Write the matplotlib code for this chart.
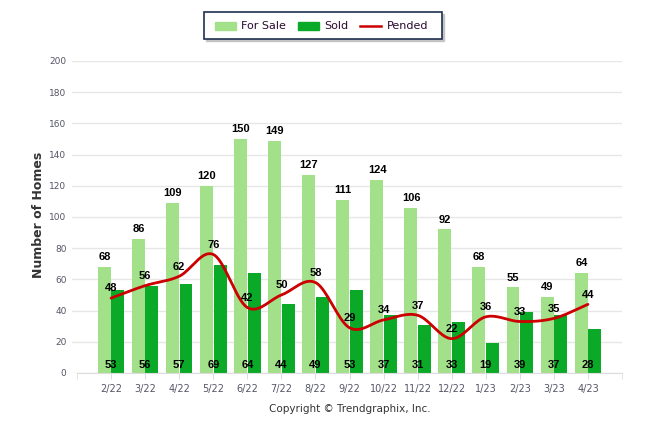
import matplotlib
matplotlib.use('Agg')

import numpy as np
import matplotlib.pyplot as plt
from matplotlib.patches import Rectangle

months = ['2/22', '3/22', '4/22', '5/22', '6/22', '7/22', '8/22', '9/22',
          '10/22', '11/22', '12/22', '1/23', '2/23', '3/23', '4/23']
for_sale = [68, 86, 109, 120, 150, 149, 127, 111, 124, 106, 92, 68, 55, 49, 64]
sold = [53, 56, 57, 69, 64, 44, 49, 53, 37, 31, 33, 19, 39, 37, 28]
pended = [48, 56, 62, 76, 42, 50, 58, 29, 34, 37, 22, 36, 33, 35, 44]

c_sale = '#a2e08a'
c_sold = '#0aa928'
c_pend = '#cc0000'

plt.rcParams['font.family'] = ['DejaVu Sans']

fig = plt.figure(figsize=(6.46, 4.34), dpi=100)
ax = fig.add_axes([72 / 646, 1 - 373 / 434, 550 / 646, 312 / 434])

x = np.arange(len(months))
w = 0.38
ax.bar(x - w / 2 - 0.01, for_sale, w, color=c_sale, zorder=2)
ax.bar(x + w / 2 + 0.01, sold, w, color=c_sold, zorder=2)

# smooth line through the pended points (catmull-rom)
px = x.astype(float)
py = np.array(pended, dtype=float)
ex = np.concatenate([[2 * px[0] - px[1]], px, [2 * px[-1] - px[-2]]])
ey = np.concatenate([[2 * py[0] - py[1]], py, [2 * py[-1] - py[-2]]])
sx, sy = [], []
t = np.linspace(0, 1, 20)
for i in range(1, len(ex) - 2):
    for arr, out in ((ex, sx), (ey, sy)):
        p0, p1, p2, p3 = arr[i - 1], arr[i], arr[i + 1], arr[i + 2]
        out.extend(0.5 * (2 * p1 + (-p0 + p2) * t
                          + (2 * p0 - 5 * p1 + 4 * p2 - p3) * t ** 2
                          + (-p0 + 3 * p1 - 3 * p2 + p3) * t ** 3))
ax.plot(sx, sy, color=c_pend, lw=2, zorder=3, solid_capstyle='round')

lab = dict(ha='center', fontsize=8, fontweight='bold', color='black',
           family='Liberation Sans', zorder=4)
for i in range(len(months)):
    ax.text(x[i] - w / 2, for_sale[i] + 3, str(for_sale[i]), va='bottom', **lab)
    ax.text(x[i], pended[i] + 3, str(pended[i]), va='bottom', **lab)
    ax.text(x[i], 5, str(sold[i]), va='center', **lab)

ax.set_xlim(-1.147, 15)
ax.set_ylim(0, 200)
ax.set_yticks(range(0, 201, 20))
ax.set_xticks(x)
ax.set_xticklabels(months)
ax.set_xticks([-1, 15], minor=True)
ax.tick_params(axis='y', length=0, labelsize=6.5, labelcolor='#555566', pad=4)
ax.tick_params(axis='x', which='major', length=4, color='#dddddd',
               labelsize=7, labelcolor='#555566', pad=4)
ax.tick_params(axis='x', which='minor', length=4, color='#dddddd')
ax.grid(axis='y', color='#e6e6e6', lw=1, zorder=0)
for s in ['top', 'right', 'left']:
    ax.spines[s].set_visible(False)
ax.spines['bottom'].set_color('#dddddd')
ax.spines['bottom'].set_bounds(-1, 15)

fig.text(38 / 646, 1 - 215 / 434, 'Number of Homes', rotation=90, ha='center',
         va='center', fontsize=9, fontweight='bold', color='#333333')
fig.text(350 / 646, 1 - 409 / 434, 'Copyright \u00a9 Trendgraphix, Inc.',
         ha='center', va='center', fontsize=7.5, color='#333333')

# legend box with shadow
fig.patches.append(Rectangle((206 / 646, 1 - 41 / 434), 238 / 646, 27 / 434,
                             transform=fig.transFigure, color='#c4c4c4', zorder=1))
fig.patches.append(Rectangle((204 / 646, 1 - 39 / 434), 238 / 646, 27 / 434,
                             transform=fig.transFigure, facecolor='white',
                             edgecolor='#1f3050', lw=1.2, zorder=2))
ly = 1 - 26 / 434
fig.patches.append(Rectangle((215 / 646, ly - 4 / 434), 21 / 646, 8 / 434,
                             transform=fig.transFigure, color=c_sale, zorder=3))
fig.text(241 / 646, ly, 'For Sale', va='center', fontsize=8, color='#2a0a30', zorder=3)
fig.patches.append(Rectangle((298 / 646, ly - 4 / 434), 21 / 646, 8 / 434,
                             transform=fig.transFigure, color=c_sold, zorder=3))
fig.text(324 / 646, ly, 'Sold', va='center', fontsize=8, color='#2a0a30', zorder=3)
fig.lines.append(plt.Line2D([360 / 646, 381 / 646], [ly, ly], transform=fig.transFigure,
                            color=c_pend, lw=1.8, zorder=3))
fig.text(387 / 646, ly, 'Pended', va='center', fontsize=8, color='#2a0a30', zorder=3)

fig.savefig('out.png', dpi=100)
